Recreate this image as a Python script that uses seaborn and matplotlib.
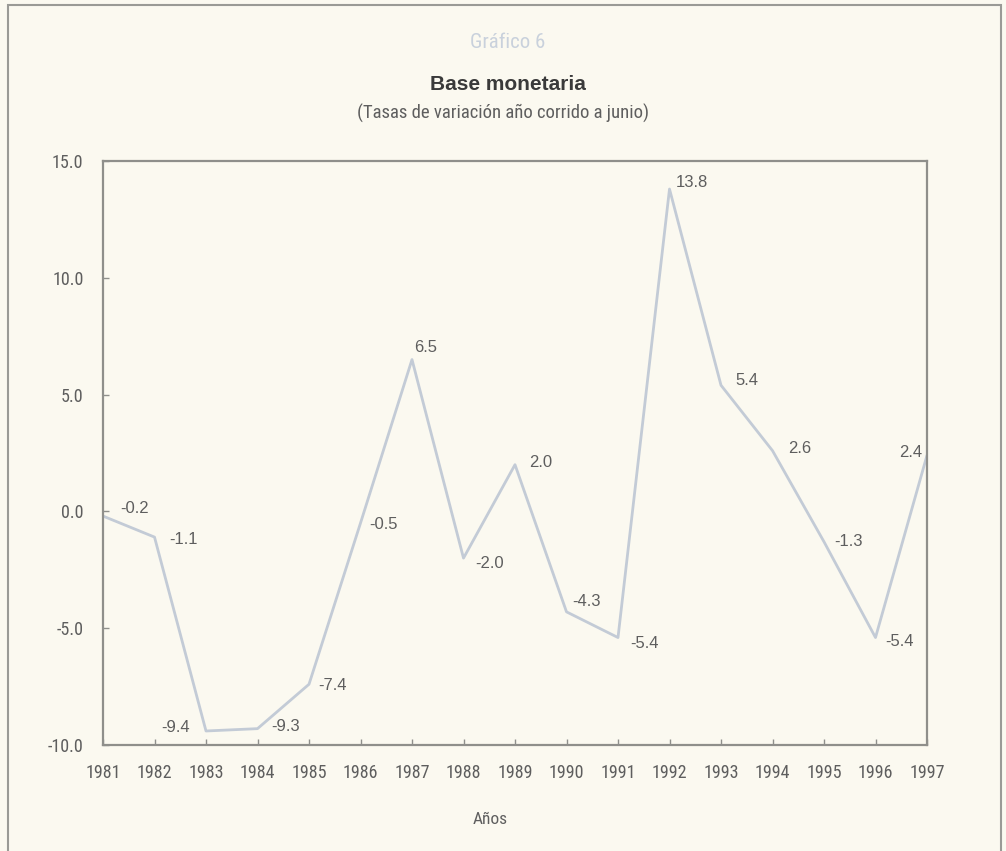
import os
import matplotlib
matplotlib.use("Agg")
import matplotlib.pyplot as plt
from matplotlib import font_manager
from matplotlib.font_manager import FontProperties
from matplotlib.patches import Rectangle
import seaborn as sns
import pandas as pd

# Annual growth of the monetary base, year-to-date to June (%)
years = [1981, 1982, 1983, 1984, 1985, 1986, 1987, 1988, 1989,
         1990, 1991, 1992, 1993, 1994, 1995, 1996, 1997]
values = [-0.2, -1.1, -9.4, -9.3, -7.4, -0.5, 6.5, -2.0, 2.0,
          -4.3, -5.4, 13.8, 5.4, 2.6, -1.3, -5.4, 2.4]
y_ticks = [-10.0, -5.0, 0.0, 5.0, 10.0, 15.0]

title_top = "Gráfico 6"
title_main = "Base monetaria"
subtitle = "(Tasas de variación año corrido a junio)"
x_label = "Años"

# label placement (pixel offsets, alignment) for each value
label_pos = {
    1981: (17, 8, "left"), 1982: (15, -2, "left"), 1983: (-16, 3, "right"),
    1984: (14, 2, "left"), 1985: (9, -1, "left"), 1986: (9, -1, "left"),
    1987: (2, 12, "left"), 1988: (12, -5, "left"), 1989: (14, 2, "left"),
    1990: (6, 10, "left"), 1991: (12, -6, "left"), 1992: (6, 7, "left"),
    1993: (14, 5, "left"), 1994: (16, 2, "left"), 1995: (10, 0, "left"),
    1996: (10, -4, "left"), 1997: (-5, 3, "right"),
}

sns.set_theme(style="white")
plt.rcParams["font.family"] = ["Liberation Sans", "DejaVu Sans"]


def narrow_font():
    """Pick a condensed sans-serif face if one is installed."""
    files = [f.fname for f in font_manager.fontManager.ttflist]
    prefs = ["LiberationSansNarrow-Regular", "LiberationSansNarrow",
             "RobotoCondensed-Regular", "DejaVuSansCondensed.ttf",
             "OpenSans_Condensed-Regular", "OpenSansCondensed"]
    for p in prefs:
        for fn in files:
            if p.lower() in os.path.basename(fn).lower() and "bold" not in fn.lower() \
                    and "italic" not in fn.lower() and "oblique" not in fn.lower():
                return fn
    for fn in files:
        b = os.path.basename(fn).lower()
        if ("condensed" in b or "narrow" in b) and "bold" not in b and "italic" not in b \
                and "oblique" not in b:
            return fn
    return None


nfile = narrow_font()


def nprop(size):
    if nfile:
        return FontProperties(fname=nfile, size=size)
    return FontProperties(family="Roboto", size=size)


BG = "#fbf9f0"
TEXT = "#5e5e5e"
FRAME = "#8f8f8b"
LINE = "#c3cbd6"

W, H = 1006, 851
fig = plt.figure(figsize=(W / 100, H / 100), dpi=100, facecolor=BG)

# plot area in pixels: x 103..927, y 161..745
left, right, top, bottom = 103, 927, 161, 745
ax = fig.add_axes([left / W, 1 - bottom / H, (right - left) / W, (bottom - top) / H])
ax.set_facecolor(BG)

df = pd.DataFrame({"year": years, "value": values})
sns.lineplot(data=df, x="year", y="value", ax=ax, color=LINE, linewidth=2.0)

ax.set_xlim(years[0], years[-1])
ax.set_ylim(y_ticks[0], y_ticks[-1])
ax.set_xticks(years)
ax.set_xticklabels([str(y) for y in years], fontproperties=nprop(13), color=TEXT)
ax.set_yticks(y_ticks)
ax.set_yticklabels([f"{v:.1f}" for v in y_ticks], fontproperties=nprop(13), color=TEXT)
ax.tick_params(axis="both", direction="in", length=4, width=1.0, color=FRAME)
ax.tick_params(axis="x", pad=14, bottom=True)
ax.tick_params(axis="y", pad=14, left=True)
ax.set_xlabel("")
ax.set_ylabel("")
for side in ["left", "right", "top", "bottom"]:
    ax.spines[side].set_visible(True)
    ax.spines[side].set_color(FRAME)
    ax.spines[side].set_linewidth(1.6)

for yr, v in zip(years, values):
    dx, dy, ha = label_pos[yr]
    ax.annotate(f"{v:.1f}", xy=(yr, v), xytext=(dx, dy), textcoords="offset pixels",
                ha=ha, va="center", fontsize=12, color=TEXT, fontfamily="Liberation Sans")

# titles and axis caption
fig.text(508 / W, 1 - 42 / H, title_top, ha="center", va="center",
         fontproperties=nprop(15), color="#c9d1dc")
fig.text(508 / W, 1 - 84 / H, title_main, ha="center", va="center",
         fontsize=15, fontweight="bold", color="#3a3a3a", fontfamily="Liberation Sans")
fig.text(503 / W, 1 - 113 / H, subtitle, ha="center", va="center",
         fontproperties=nprop(13.5), color=TEXT)
fig.text(490 / W, 1 - 819 / H, x_label, ha="center", va="center",
         fontproperties=nprop(12.5), color=TEXT)

# outer page frame
fig.patches.append(Rectangle((8 / W, -0.05), (1001 - 8) / W, 1.05 - 5 / H,
                             transform=fig.transFigure, fill=False,
                             edgecolor="#9a9a96", linewidth=1.5))

fig.savefig("out.png", dpi=100, facecolor=BG)
